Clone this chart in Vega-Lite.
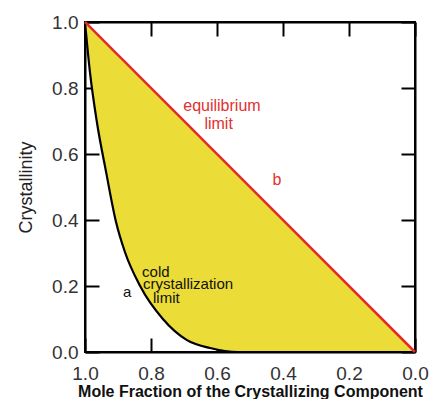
{
  "$schema": "https://vega.github.io/schema/vega-lite/v6.json",
  "width": 330,
  "height": 330,
  "autosize": {"type": "none"},
  "padding": {"left": 85, "top": 22, "right": 15, "bottom": 47},
  "background": "white",
  "config": {
    "view": {"stroke": "black", "strokeWidth": 2},
    "font": "Liberation Sans",
    "axis": {"grid": false, "domainColor": "black", "domainWidth": 2, "tickColor": "black", "tickWidth": 2}
  },
  "resolve": {"axis": {"x": "independent", "y": "independent"}},
  "datasets": {
    "curve": [
      {"x": 1.0, "curve": 1.0, "eq": 1.0},
      {"x": 0.985, "curve": 0.848, "eq": 0.985},
      {"x": 0.964, "curve": 0.697, "eq": 0.964},
      {"x": 0.936, "curve": 0.545, "eq": 0.936},
      {"x": 0.906, "curve": 0.394, "eq": 0.906},
      {"x": 0.879, "curve": 0.303, "eq": 0.879},
      {"x": 0.833, "curve": 0.2, "eq": 0.833},
      {"x": 0.764, "curve": 0.1, "eq": 0.764},
      {"x": 0.691, "curve": 0.036, "eq": 0.691},
      {"x": 0.621, "curve": 0.012, "eq": 0.621},
      {"x": 0.576, "curve": 0.003, "eq": 0.576},
      {"x": 0.536, "curve": 0.0, "eq": 0.536},
      {"x": 0.0, "curve": 0.0, "eq": 0.0}
    ],
    "labels": [
      {"group": "eq", "x": 0.585, "y": 0.73, "label": "equilibrium"},
      {"group": "eq", "x": 0.595, "y": 0.676, "label": "limit"},
      {"group": "eq", "x": 0.418, "y": 0.506, "label": "b"},
      {"group": "cold", "x": 0.827, "y": 0.227, "label": "cold"},
      {"group": "cold", "x": 0.824, "y": 0.191, "label": "crystallization"},
      {"group": "cold", "x": 0.794, "y": 0.148, "label": "limit"},
      {"group": "cold", "x": 0.885, "y": 0.167, "label": "a"}
    ]
  },
  "layer": [
    {
      "data": {"name": "curve"},
      "mark": {"type": "area", "color": "#ebdc38", "opacity": 1, "interpolate": "monotone"},
      "encoding": {
        "x": {
          "field": "x", "type": "quantitative",
          "scale": {"domain": [0, 1], "reverse": true, "nice": false, "zero": false},
          "axis": {
            "orient": "bottom", "values": [0, 0.2, 0.4, 0.6, 0.8, 1], "format": ".1f",
            "tickSize": -14, "labelFontSize": 19, "labelColor": "#333", "labelPadding": 26,
            "labelFlush": false,
            "title": "Mole Fraction of the Crystallizing Component", "titleFontSize": 16,
            "titleFontWeight": "bold", "titleColor": "#111", "titlePadding": 0
          }
        },
        "y": {
          "field": "eq", "type": "quantitative",
          "scale": {"domain": [0, 1], "nice": false, "zero": false},
          "axis": {
            "orient": "left", "values": [0, 0.2, 0.4, 0.6, 0.8, 1], "format": ".1f",
            "tickSize": -14, "labelFontSize": 19, "labelColor": "#333", "labelPadding": 21,
            "labelFlush": false,
            "title": "Crystallinity", "titleFontSize": 18, "titleFontWeight": "normal",
            "titleColor": "#222", "titlePadding": 16
          }
        },
        "y2": {"field": "curve"}
      }
    },
    {
      "data": {"name": "curve"},
      "mark": {"type": "line", "color": "black", "strokeWidth": 2.2, "interpolate": "monotone"},
      "encoding": {
        "x": {"field": "x", "type": "quantitative", "axis": null},
        "y": {"field": "curve", "type": "quantitative", "axis": null}
      }
    },
    {
      "data": {"name": "curve"},
      "mark": {"type": "line", "color": "#e62a2a", "strokeWidth": 2.5},
      "encoding": {
        "x": {
          "field": "x", "type": "quantitative",
          "axis": {"orient": "top", "values": [0, 0.2, 0.4, 0.6, 0.8, 1], "labels": false, "tickSize": -14, "title": null}
        },
        "y": {
          "field": "eq", "type": "quantitative",
          "axis": {"orient": "right", "values": [0, 0.2, 0.4, 0.6, 0.8, 1], "labels": false, "tickSize": -14, "title": null}
        }
      }
    },
    {
      "data": {"name": "labels"},
      "transform": [{"filter": "datum.group == 'eq'"}],
      "mark": {"type": "text", "color": "#e23030", "fontSize": 16, "align": "center", "baseline": "alphabetic"},
      "encoding": {
        "x": {"field": "x", "type": "quantitative", "axis": null},
        "y": {"field": "y", "type": "quantitative", "axis": null},
        "text": {"field": "label"}
      }
    },
    {
      "data": {"name": "labels"},
      "transform": [{"filter": "datum.group == 'cold'"}],
      "mark": {"type": "text", "color": "#111", "fontSize": 15, "align": "left", "baseline": "alphabetic"},
      "encoding": {
        "x": {"field": "x", "type": "quantitative", "axis": null},
        "y": {"field": "y", "type": "quantitative", "axis": null},
        "text": {"field": "label"}
      }
    }
  ]
}
